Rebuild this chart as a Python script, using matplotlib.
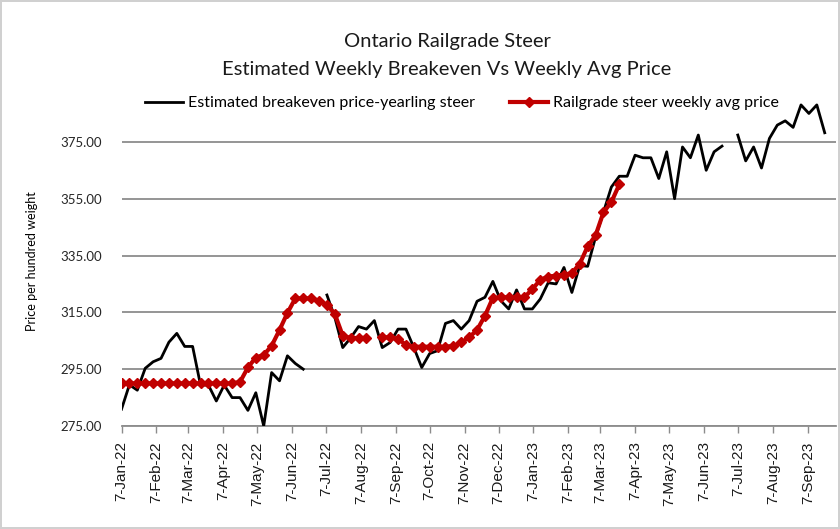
import matplotlib
matplotlib.use("Agg")
import matplotlib.pyplot as plt
from matplotlib.lines import Line2D
import numpy as np
import pandas as pd

# weekly observations starting 7-Jan-22
start_date = "2022-01-07"

breakeven = [
    280.9, 289.5, 287.6, 295.3, 297.6, 298.8, 304.5, 307.6, 303.0, 303.0,
    289.4, 289.4, 283.8, 289.4, 285.0, 285.0, 280.5, 286.7, 275.0, 293.8,
    290.9, 299.7, 297.0, 295.0, None, None, 321.1, 313.2, 302.6, 306.0,
    310.0, 309.1, 312.1, 302.6, 304.4, 309.1, 309.1, 302.6, 295.6, 300.5,
    301.5, 311.1, 312.1, 309.1, 312.1, 318.9, 320.3, 325.9, 319.1, 316.2,
    322.9, 316.2, 316.2, 319.7, 325.4, 325.0, 330.8, 322.0, 331.5, 331.2,
    341.5, 350.3, 359.1, 362.9, 362.9, 370.3, 369.4, 369.4, 362.1, 371.5,
    355.0, 373.2, 369.4, 377.4, 365.0, 371.5, 373.5, None, 377.4, 368.3,
    373.2, 365.8, 376.2, 380.9, 382.4, 380.1, 388.0, 385.0, 388.0, 378.2,
]

railgrade = [
    290.0, 290.0, 290.0, 290.0, 290.0, 290.0, 290.0, 290.0, 290.0, 290.0,
    290.0, 290.0, 290.0, 290.0, 290.0, 290.5, 295.6, 299.1, 300.0, 303.2,
    308.8, 314.8, 319.9, 319.9, 319.9, 319.1, 317.7, 314.4, 306.8, 305.9,
    306.0, 306.0, None, 306.2, 306.2, 305.6, 303.6, 302.9, 302.9, 302.9,
    302.9, 302.9, 303.2, 304.4, 306.2, 308.8, 313.8, 320.1, 320.3, 320.3,
    320.3, 320.3, 323.2, 326.4, 327.6, 327.9, 328.3, 328.8, 332.1, 338.2,
    342.1, 350.2, 353.8, 360.0,
]

y_ticks = [275, 295, 315, 335, 355, 375]

dates = pd.date_range(start_date, periods=len(breakeven), freq="7D")
be = np.array([np.nan if v is None else v for v in breakeven], dtype=float)
rg = np.array([np.nan if v is None else v for v in railgrade], dtype=float)

# month ticks on the 7th, Jan-22 .. Sep-23
month_ticks = pd.date_range("2022-01-01", "2023-09-01", freq="MS") + pd.Timedelta(days=6)
month_labels = [d.strftime("%d-%b-%y").lstrip("0") for d in month_ticks]

plt.rcParams["font.family"] = ["Lato", "DejaVu Sans"]

fig = plt.figure(figsize=(8.4, 5.29), dpi=100)
fig.patch.set_edgecolor("#d0d0d0")
fig.patch.set_linewidth(1.5)

ax = fig.add_axes([121.5 / 840, 103 / 529, 714.5 / 840, 329.6 / 529])

ax.plot(dates, be, color="black", lw=2.0, zorder=3)
ax.plot(dates[:len(rg)], rg, color="#C00000", lw=3.0, marker="D",
        markersize=5.5, zorder=4)

ax.set_ylim(275, 391)
ax.set_xlim(pd.Timestamp("2022-01-07"), pd.Timestamp("2023-10-02"))
ax.set_yticks(y_ticks)
ax.set_yticklabels([f"{v:.2f}" for v in y_ticks], fontsize=9.5, color="#262626")
ax.grid(axis="y", color="#8c8c8c", lw=1.3)
ax.set_axisbelow(True)
ax.tick_params(axis="y", length=0, pad=14)

ax.set_xticks(month_ticks)
ax.set_xticklabels(month_labels, rotation=90, fontsize=11,
                   family="Liberation Sans", color="#1a1a1a")
ax.tick_params(axis="x", length=5, width=1, color="#8c8c8c", pad=6)

for side in ["top", "right", "left"]:
    ax.spines[side].set_visible(False)
ax.spines["bottom"].set_color("#8c8c8c")
ax.spines["bottom"].set_linewidth(1.3)

ax.set_ylabel("Price per hundred weight", fontsize=9, color="black", labelpad=16)

fig.text(447 / 840, 1 - 42 / 529, "Ontario Railgrade Steer", ha="center",
         va="center", fontsize=14.5, color="#1a1a1a")
fig.text(447 / 840, 1 - 69 / 529, "Estimated Weekly Breakeven Vs Weekly Avg Price",
         ha="center", va="center", fontsize=14.5, color="#1a1a1a")

handles = [
    Line2D([], [], color="black", lw=2.0),
    Line2D([], [], color="#C00000", lw=3.0, marker="D", markersize=5.5),
]
fig.legend(handles,
           ["Estimated breakeven price-yearling steer",
            "Railgrade steer weekly avg price"],
           loc="center", bbox_to_anchor=(462 / 840, 1 - 103 / 529), ncol=2,
           frameon=False, fontsize=11.5, handlelength=2.4, columnspacing=2.2,
           handletextpad=0.3)

fig.savefig("out.png", dpi=100)
